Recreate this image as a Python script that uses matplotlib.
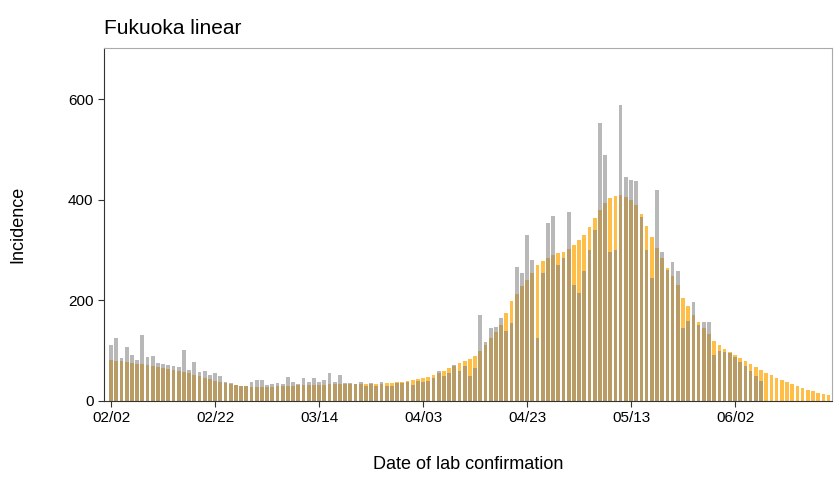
import matplotlib.pyplot as plt
import numpy as np
import pandas as pd

plt.rcParams['font.family'] = ['Liberation Sans', 'DejaVu Sans']

# Daily counts from 2021-02-02
observed = [
    111, 125, 86, 108, 92, 82, 131, 88, 90, 75, 73, 71, 70, 68, 101, 62, 77, 58, 60, 52,
    55, 50, 38, 36, 32, 30, 30, 38, 42, 42, 31, 33, 36, 33, 48, 38, 33, 45, 38, 46,
    38, 42, 55, 38, 52, 36, 35, 33, 38, 30, 36, 30, 38, 30, 30, 36, 35, 38, 31, 40,
    38, 40, 45, 60, 50, 56, 72, 60, 69, 50, 65, 171, 118, 145, 148, 165, 140, 155, 267, 255,
    330, 281, 125, 255, 354, 368, 271, 285, 376, 231, 215, 258, 300, 340, 553, 490, 296, 300, 589, 446,
    440, 438, 365, 300, 245, 420, 296, 261, 277, 259, 145, 160, 197, 151, 157, 157, 91, 100, 98, 95,
    88, 78, 70, 60, 50, 40,
]
fitted = [
    82, 80, 79, 77, 76, 74, 73, 71, 69, 67, 65, 63, 61, 59, 57, 55, 52, 49, 46, 43,
    40, 37, 35, 33, 31, 30, 29, 28, 28, 28, 28, 28, 29, 29, 30, 30, 31, 31, 32, 32,
    32, 32, 33, 33, 33, 33, 33, 33, 33, 33, 33, 34, 34, 35, 36, 37, 38, 39, 41, 43,
    45, 48, 52, 56, 60, 65, 70, 75, 80, 84, 90, 100, 112, 125, 138, 152, 175, 198, 212, 228,
    240, 255, 270, 278, 285, 290, 294, 297, 302, 310, 320, 330, 346, 364, 380, 394, 404, 408, 410, 405,
    400, 390, 372, 348, 327, 305, 285, 265, 248, 230, 205, 188, 172, 158, 145, 133, 120, 112, 104, 97,
    92, 86, 80, 74, 68, 62, 56, 51, 46, 41, 37, 33, 29, 25, 22, 19, 16, 13, 11,
]
tick_labels = ["02/02", "02/22", "03/14", "04/03", "04/23", "05/13", "06/02"]

start = pd.Timestamp("2021-02-02")
x_fit = np.arange(len(fitted))
x_obs = np.arange(len(observed))

fig = plt.figure(figsize=(8.35, 4.84), dpi=100)
ax = fig.add_axes([0.1246, 0.1715, 0.8718, 0.7293])

ax.bar(x_fit, fitted, width=0.72, color="#FFA500", alpha=0.72, linewidth=0)
ax.bar(x_obs, observed, width=0.72, color="#7F7F7F", alpha=0.55, linewidth=0)

tick_pos = [(pd.Timestamp("2021-" + t.replace("/", "-")) - start).days for t in tick_labels]
ax.set_xticks(tick_pos)
ax.set_xticklabels(tick_labels, fontsize=11)
ax.set_yticks([0, 200, 400, 600])
ax.tick_params(axis="y", labelsize=11)
ax.tick_params(direction="out", length=4, color="#333333")
ax.set_xlim(-1.35, 138.65)
ax.set_ylim(0, 702)

for side in ["left", "bottom"]:
    ax.spines[side].set_color("#333333")
for side in ["top", "right"]:
    ax.spines[side].set_color("#aaaaaa")

ax.set_ylabel("Incidence", fontsize=13, labelpad=30)
ax.set_xlabel("Date of lab confirmation", fontsize=13, labelpad=22)
ax.set_title("Fukuoka linear", fontsize=15, loc="left", pad=10)

fig.savefig("out.png", dpi=100)
